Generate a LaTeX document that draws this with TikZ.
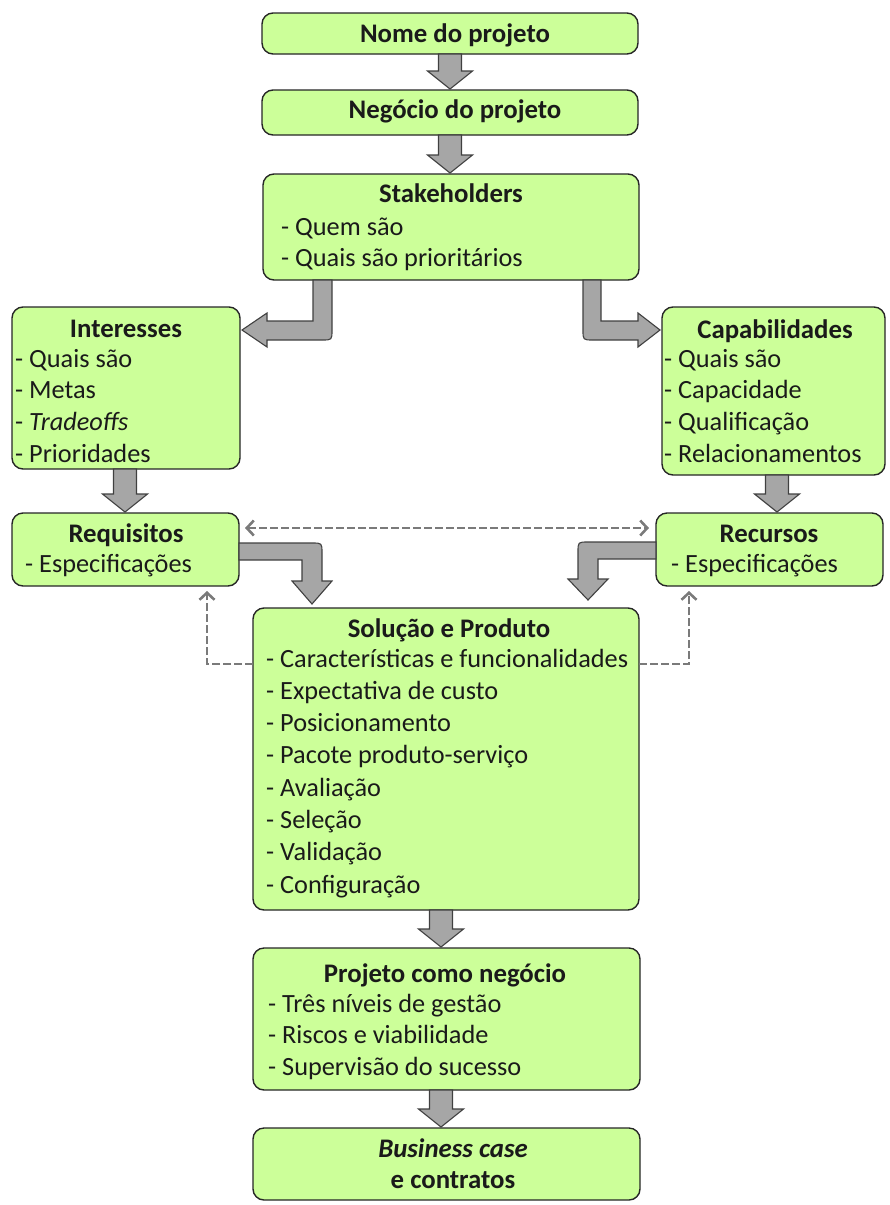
\documentclass[tikz,border=0pt]{standalone}
\usepackage{fontspec}
\setmainfont{Carlito}
\usetikzlibrary{calc,arrows.meta}

\definecolor{boxgreen}{HTML}{CCFF99}
\definecolor{boxline}{HTML}{262626}
\definecolor{arrowfill}{HTML}{A6A6A6}
\definecolor{arrowline}{HTML}{404040}
\definecolor{dashgray}{HTML}{7A7A7A}
\definecolor{inkdark}{HTML}{1A1A1A}

\newcommand\diagfont{\fontsize{26.3}{30}\selectfont}
\newcommand\headfont{\fontsize{26.8}{30}\selectfont\bfseries}

% straight block arrow from the bottom of #1 down to the top of #2, centred at x = #3
\newcommand\downblock[3]{%
  \filldraw[blockarrow]
    (#3-11.5,0 |- #1.south)
    -- ($(#3-11.5,0 |- #2.north)+(0,-19)$)
    -- ($(#3-22.5,0 |- #2.north)+(0,-19)$)
    -- ($(#3,0 |- #2.north)+(0,-1)$)
    -- ($(#3+22.5,0 |- #2.north)+(0,-19)$)
    -- ($(#3+11.5,0 |- #2.north)+(0,-19)$)
    -- (#3+11.5,0 |- #1.south) -- cycle;}

\begin{document}
\begin{tikzpicture}[x=1pt,y=-1pt,
  box/.style={draw=boxline, fill=boxgreen, line width=1.4pt, rounded corners=11pt,
              anchor=north west, inner sep=0pt, outer sep=0pt},
  blockarrow/.style={fill=arrowfill, draw=arrowline, line width=1.1pt, line join=miter},
  dashlink/.style={draw=dashgray, line width=2.6pt, dash pattern=on 8pt off 3pt},
  barb/.tip={Straight Barb[length=7pt,width=15pt]},
  heading/.style={font=\headfont, anchor=base, inner sep=0pt, text=inkdark},
  item/.style={font=\diagfont, anchor=base west, inner sep=0pt, text=inkdark}]

\useasboundingbox (0,0) rectangle (890,1205);

% ---------- boxes ----------
\node[box, minimum width=376, minimum height=41]  (nome)  at (262,13)   {};
\node[box, minimum width=376, minimum height=45]  (neg)   at (262,90)   {};
\node[box, minimum width=376, minimum height=106] (stake) at (263,174)  {};
\node[box, minimum width=228, minimum height=162] (inter) at (12,307)   {};
\node[box, minimum width=223, minimum height=168] (capab) at (662,307)  {};
\node[box, minimum width=227, minimum height=73]  (req)   at (12,513)   {};
\node[box, minimum width=227, minimum height=73]  (rec)   at (656,513)  {};
\node[box, minimum width=386, minimum height=302] (sol)   at (253,608)  {};
\node[box, minimum width=387, minimum height=142] (proj)  at (253,948)  {};
\node[box, minimum width=387, minimum height=72]  (bus)   at (253,1128) {};

% ---------- texts ----------
\node[heading] (t-nome)  at (455,42)  {Nome do projeto};
\node[heading] (t-neg)   at (455,118) {Negócio do projeto};

\node[heading] (t-stake) at (451,202) {Stakeholders};
\foreach \txt [count=\k] in {Quem são, Quais são prioritários}
  \node[item] (i-stake-\k) at (281,{235+31*(\k-1)}) {- \txt};

\node[heading] (t-inter) at (126,337) {Interesses};
\foreach \txt [count=\k] in {Quais são, Metas, \itshape Tradeoffs, Prioridades}
  \node[item] (i-inter-\k) at (15,{367+31.7*(\k-1)}) {- \txt};

\node[heading] (t-capab) at (775,338) {Capabilidades};
\foreach \txt [count=\k] in {Quais são, Capacidade, Qualificação, Relacionamentos}
  \node[item] (i-capab-\k) at (664,{367+31.7*(\k-1)}) {- \txt};

\node[heading] (t-req) at (126,542) {Requisitos};
\node[item] (i-req-1) at (25,572) {- Especificações};

\node[heading] (t-rec) at (769,542) {Recursos};
\node[item] (i-rec-1) at (671,572) {- Especificações};

\node[heading] (t-sol) at (449,637) {Solução e Produto};
\foreach \txt [count=\k] in {Características e funcionalidades, Expectativa de custo,
    Posicionamento, Pacote produto-serviço, Avaliação, Seleção, Validação, Configuração}
  \node[item] (i-sol-\k) at (266,{667+32.3*(\k-1)}) {- \txt};

\node[heading] (t-proj) at (445,982) {Projeto como negócio};
\foreach \txt [count=\k] in {Três níveis de gestão, Riscos e viabilidade, Supervisão do sucesso}
  \node[item] (i-proj-\k) at (268,{1012+31.5*(\k-1)}) {- \txt};

\node[heading] (t-bus-1) at (453,1157) {\itshape Business case};
\node[heading] (t-bus-2) at (453,1188) {e contratos};

% ---------- straight block arrows ----------
\downblock{nome}{neg}{450}
\downblock{neg}{stake}{450}
\downblock{inter}{req}{125}
\downblock{capab}{rec}{777}
\downblock{sol}{proj}{441}
\downblock{proj}{bus}{441}

% ---------- bent block arrows ----------
% Stakeholders -> Interesses
\filldraw[blockarrow]
  (313,0 |- stake.south) -- (313,321) -- (267,321) -- (267,313)
  -- ($(inter.east |- 0,330)+(2,0)$) -- (267,347) -- (267,340) -- (322,340)
  .. controls (332,340) .. (332,330) -- (332,0 |- stake.south) -- cycle;
% Stakeholders -> Capabilidades
\filldraw[blockarrow]
  (601,0 |- stake.south) -- (601,321) -- (638,321) -- (638,313)
  -- ($(capab.west |- 0,330)+(-2,0)$) -- (638,347) -- (638,340) -- (593,340)
  .. controls (583,340) .. (583,330) -- (583,0 |- stake.south) -- cycle;
% Requisitos -> Solucao e Produto
\filldraw[blockarrow]
  (req.east |- 0,543) -- (312,543) .. controls (322,543) .. (322,553)
  -- (322,581) -- (332,581) -- ($(312,0 |- sol.north)+(0,-4)$) -- (292,581)
  -- (302,581) -- (302,560) -- (req.east |- 0,560) -- cycle;
% Recursos -> Solucao e Produto
\filldraw[blockarrow]
  (rec.west |- 0,542) -- (588,542) .. controls (578,542) .. (578,552)
  -- (578,579) -- (568,579) -- ($(588,0 |- sol.north)+(0,-8)$) -- (608,579)
  -- (598,579) -- (598,559) -- (rec.west |- 0,559) -- cycle;

% ---------- dashed feedback links ----------
\draw[dashlink, barb-barb] ($(req.east |- 0,528)+(6,0)$) -- ($(rec.west |- 0,528)+(-7,0)$);
\draw[dashlink, -barb] (sol.west |- 0,664) -| ($(207,0 |- req.south)+(0,5)$);
\draw[dashlink, -barb] (sol.east |- 0,664) -| ($(689,0 |- rec.south)+(0,5)$);

\end{tikzpicture}
\end{document}
